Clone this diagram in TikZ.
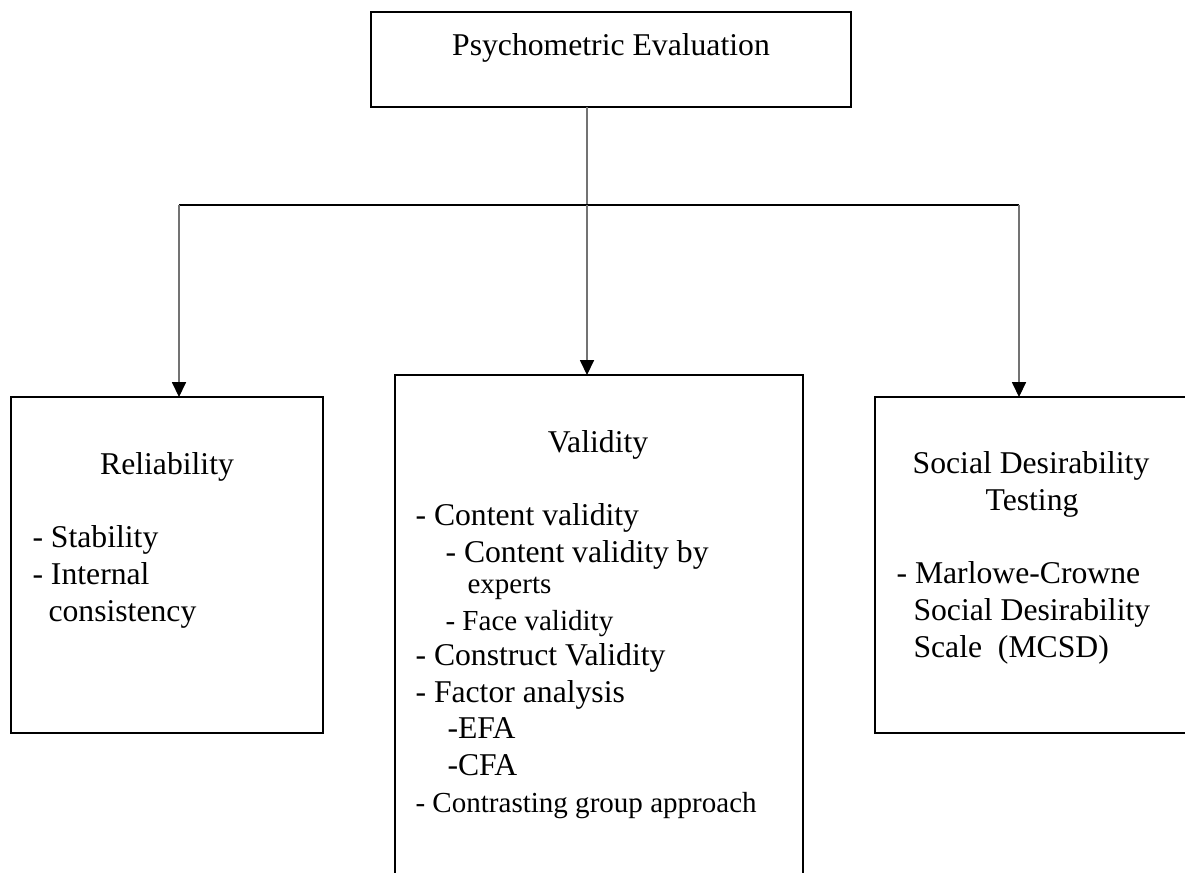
\documentclass[tikz,border=0pt]{standalone}
\usepackage{fontspec}
\setmainfont{Liberation Serif}
\usetikzlibrary{arrows.meta}
\begin{document}
\begin{tikzpicture}[x=0.3788pt,y=-0.3788pt,
  box/.style={draw=black,line width=0.75pt,inner sep=0pt,outer sep=0pt,fill=white},
  big/.style={inner sep=0pt,font=\fontsize{12pt}{14pt}\selectfont},
  small/.style={inner sep=0pt,font=\fontsize{11pt}{13pt}\selectfont},
  conn/.style={draw=black!55,line width=0.4pt},
  arr/.style={conn,-{Triangle[width=5.3pt,length=5.6pt,fill=black,color=black]}},
  bar/.style={draw=black,line width=0.6pt}]
\useasboundingbox (0,0) rectangle (1185,872);
\clip (0,0) rectangle (1185,872);
% boxes
\node[box,minimum width=480*0.3788pt,minimum height=95*0.3788pt] (top) at (611,59.5) {};
\node[box,minimum width=312*0.3788pt,minimum height=336*0.3788pt] (rel) at (167,565) {};
\node[box,minimum width=408*0.3788pt,minimum height=540*0.3788pt] (val) at (599,645) {};
\node[box,minimum width=315*0.3788pt,minimum height=336*0.3788pt] (soc) at (1032.5,565) {};
% connectors
\coordinate (j) at (587,205);
\coordinate (jl) at (179,205);
\coordinate (jr) at (1019,205);
\draw[conn] (top.south -| j) -- (j);
\draw[bar] (jl) -- (jr);
\draw[arr] (jl) -- (jl |- rel.north);
\draw[arr] (j) -- (j |- val.north);
\draw[arr] (jr) -- (jr |- soc.north);
% texts
\node[big,anchor=base] (tt) at (611,55) {Psychometric Evaluation};
\node[big,anchor=base] (rt) at (167,474) {Reliability};
\node[big,anchor=base west] (r1) at (32,547) {- Stability};
\node[big,anchor=base west] (r2) at (32,584) {- Internal};
\node[big,anchor=base west] (r3) at (48,621) {consistency};
\node[big,anchor=base] (vt) at (598,452) {Validity};
\node[big,anchor=base west] (v1) at (415,525) {- Content validity};
\node[big,anchor=base west] (v2) at (445,562) {- Content validity by};
\node[small,anchor=base west] (v3) at (467,593) {experts};
\node[small,anchor=base west] (v4) at (445,630) {- Face validity};
\node[big,anchor=base west] (v5) at (415,665) {- Construct Validity};
\node[big,anchor=base west] (v6) at (415,702) {- Factor analysis};
\node[big,anchor=base west] (v7) at (447,738) {-EFA};
\node[big,anchor=base west] (v8) at (447,775) {-CFA};
\node[small,anchor=base west] (v9) at (415,812) {- Contrasting group approach};
\node[big,anchor=base] (st1) at (1031,473) {Social Desirability};
\node[big,anchor=base] (st2) at (1032,510) {Testing};
\node[big,anchor=base west] (s1) at (896,583) {- Marlowe-Crowne};
\node[big,anchor=base west] (s2) at (913,620) {Social Desirability};
\node[big,anchor=base west] (s3) at (913,657) {Scale\ \ (MCSD)};
\end{tikzpicture}
\end{document}
